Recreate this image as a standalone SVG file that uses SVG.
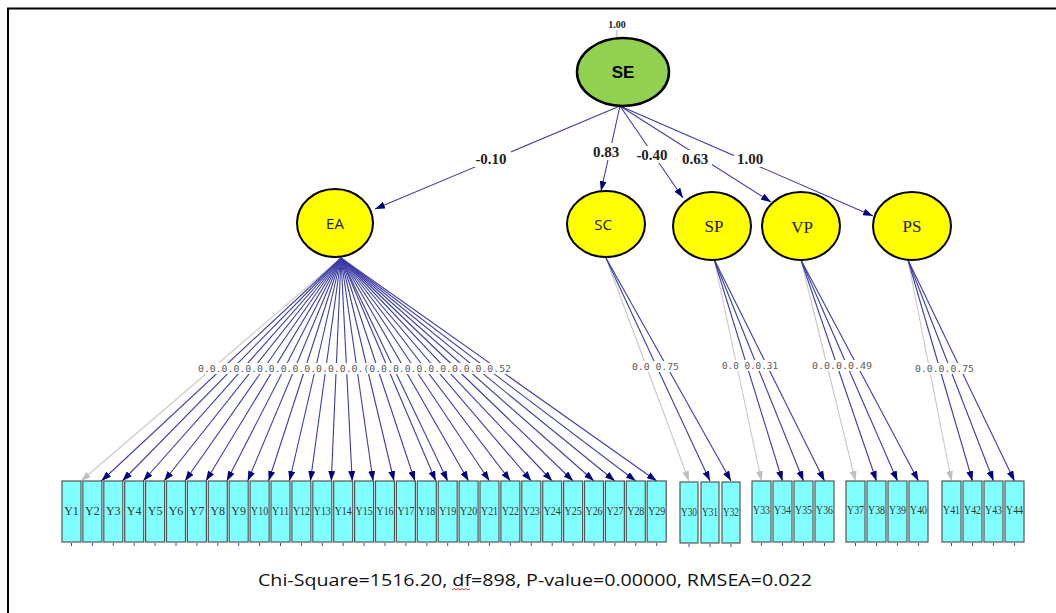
<svg xmlns="http://www.w3.org/2000/svg" width="1056" height="613" viewBox="0 0 1056 613">
<defs>
<marker id="ah" viewBox="0 0 10 7" refX="10" refY="3.5" markerWidth="10" markerHeight="7" markerUnits="userSpaceOnUse" orient="auto"><path d="M0,0 L10,3.5 L0,7 z" fill="#000080"/></marker>
<marker id="ag" viewBox="0 0 10 7" refX="10" refY="3.5" markerWidth="10" markerHeight="7" markerUnits="userSpaceOnUse" orient="auto"><path d="M0,0 L10,3.5 L0,7 z" fill="#c0c0c0"/></marker>
<style>
.ln{stroke:#3c3ca4;stroke-width:1.1;fill:none;marker-end:url(#ah)}
.lg{stroke:#c8c8c8;stroke-width:1.1;fill:none;marker-end:url(#ag)}
.lat{fill:#ffff00;stroke:#000;stroke-width:2}
.box{fill:#80ffff;stroke:#555;stroke-width:1.2}
.bt{font-family:"Liberation Serif",serif;font-size:12px;fill:#333;text-anchor:middle}
.pl{font-family:"Liberation Serif",serif;font-size:15px;font-weight:bold;fill:#222;text-anchor:middle}
.ld{font-family:"DejaVu Sans Mono",monospace;font-size:9.5px;fill:#5a5a5a}
.tk{stroke:#4646a8;stroke-width:1}
</style>
</defs>
<rect width="1056" height="613" fill="#fff"/>
<path d="M8,613 V8.5 H1056" fill="none" stroke="#000" stroke-width="2"/>

<g id="connectors">
<line x1="617" y1="30" x2="617" y2="38" stroke="#aaa"/>
<line class="ln" x1="620" y1="106" x2="375" y2="209"/>
<line class="ln" x1="620" y1="106" x2="601" y2="191"/>
<line class="ln" x1="620" y1="106" x2="683" y2="198"/>
<line class="ln" x1="620" y1="106" x2="771" y2="202"/>
<line class="ln" x1="620" y1="106" x2="873" y2="216"/>
<line class="lg" x1="341" y1="258" x2="81" y2="481"/>
<line class="ln" x1="341" y1="258" x2="101.4" y2="481"/>
<line class="ln" x1="341" y1="258" x2="122.3" y2="481"/>
<line class="ln" x1="341" y1="258" x2="143.2" y2="481"/>
<line class="ln" x1="341" y1="258" x2="164.1" y2="481"/>
<line class="ln" x1="341" y1="258" x2="185" y2="481"/>
<line class="ln" x1="341" y1="258" x2="205.9" y2="481"/>
<line class="ln" x1="341" y1="258" x2="226.8" y2="481"/>
<line class="ln" x1="341" y1="258" x2="247.7" y2="481"/>
<line class="ln" x1="341" y1="258" x2="268.6" y2="481"/>
<line class="ln" x1="341" y1="258" x2="289.5" y2="481"/>
<line class="ln" x1="341" y1="258" x2="310.4" y2="481"/>
<line class="ln" x1="341" y1="258" x2="331.3" y2="481"/>
<line class="ln" x1="341" y1="258" x2="352.2" y2="481"/>
<line class="ln" x1="341" y1="258" x2="373.1" y2="481"/>
<line class="ln" x1="341" y1="258" x2="394" y2="481"/>
<line class="ln" x1="341" y1="258" x2="414.9" y2="481"/>
<line class="ln" x1="341" y1="258" x2="435.8" y2="481"/>
<line class="ln" x1="341" y1="258" x2="447.7" y2="481"/>
<line class="ln" x1="341" y1="258" x2="468.6" y2="481"/>
<line class="ln" x1="341" y1="258" x2="489.5" y2="481"/>
<line class="ln" x1="341" y1="258" x2="510.4" y2="481"/>
<line class="ln" x1="341" y1="258" x2="531.3" y2="481"/>
<line class="ln" x1="341" y1="258" x2="552.2" y2="481"/>
<line class="ln" x1="341" y1="258" x2="573.1" y2="481"/>
<line class="ln" x1="341" y1="258" x2="594" y2="481"/>
<line class="ln" x1="341" y1="258" x2="614.9" y2="481"/>
<line class="ln" x1="341" y1="258" x2="635.8" y2="481"/>
<line class="ln" x1="341" y1="258" x2="656.7" y2="481"/>
<line class="lg" x1="606" y1="258" x2="689" y2="481"/>
<line class="ln" x1="606" y1="258" x2="710" y2="481"/>
<line class="ln" x1="606" y1="258" x2="731" y2="481"/>
<line class="lg" x1="714" y1="259" x2="761.5" y2="481"/>
<line class="ln" x1="714" y1="259" x2="782.5" y2="481"/>
<line class="ln" x1="714" y1="259" x2="803.5" y2="481"/>
<line class="ln" x1="714" y1="259" x2="824.5" y2="481"/>
<line class="lg" x1="801" y1="260" x2="855.5" y2="481"/>
<line class="ln" x1="801" y1="260" x2="876.5" y2="481"/>
<line class="ln" x1="801" y1="260" x2="897.5" y2="481"/>
<line class="ln" x1="801" y1="260" x2="918.5" y2="481"/>
<line class="lg" x1="908" y1="260" x2="951.5" y2="481"/>
<line class="ln" x1="908" y1="260" x2="972.5" y2="481"/>
<line class="ln" x1="908" y1="260" x2="993.5" y2="481"/>
<line class="ln" x1="908" y1="260" x2="1014.5" y2="481"/>
</g>

<g id="path-labels">
<rect x="471" y="150" width="40" height="17" fill="#fff"/>
<text class="pl" x="491" y="164">-0.10</text>
<rect x="590" y="143" width="32" height="17" fill="#fff"/>
<text class="pl" x="606" y="157">0.83</text>
<rect x="634" y="146" width="37" height="17" fill="#fff"/>
<text class="pl" x="652" y="160">-0.40</text>
<rect x="679" y="150" width="33" height="17" fill="#fff"/>
<text class="pl" x="695" y="164">0.63</text>
<rect x="734" y="150" width="33" height="17" fill="#fff"/>
<text class="pl" x="750" y="164">1.00</text>
</g>

<g id="loading-labels">
<rect x="196" y="363" width="318" height="11" fill="#fff"/>
<text class="ld" x="198" y="372" textLength="313" lengthAdjust="spacingAndGlyphs">0.0.0.0.0.0.0.0.0.0.0.0.0.0.(0.0.0.0.0.0.0.0.0.0.0.52</text>
<rect x="630" y="361" width="51" height="11" fill="#fff"/>
<text class="ld" x="632" y="370" textLength="47" lengthAdjust="spacingAndGlyphs">0.0 0.75</text>
<rect x="720" y="360" width="60" height="11" fill="#fff"/>
<text class="ld" x="722" y="369" textLength="56" lengthAdjust="spacingAndGlyphs">0.0 0.0.31</text>
<rect x="810" y="360" width="64" height="11" fill="#fff"/>
<text class="ld" x="812" y="369" textLength="60" lengthAdjust="spacingAndGlyphs">0.0.0.0.49</text>
<rect x="913" y="363" width="63" height="11" fill="#fff"/>
<text class="ld" x="915" y="372" textLength="59" lengthAdjust="spacingAndGlyphs">0.0.0.0.75</text>
</g>

<g id="SE">
<text x="617" y="28" font-family="Liberation Serif,serif" font-size="10" font-weight="bold" fill="#222" text-anchor="middle">1.00</text>
<ellipse cx="623" cy="72" rx="46" ry="34" fill="#92d050" stroke="#000" stroke-width="2.5"/>
<text x="623" y="78" font-family="Liberation Sans,sans-serif" font-size="17" font-weight="bold" fill="#000" text-anchor="middle">SE</text>
</g>
<g id="EA">
<ellipse class="lat" cx="335" cy="223" rx="38" ry="34"/>
<text x="335" y="229" font-family="Open Sans,sans-serif" font-size="15" fill="#222" text-anchor="middle">EA</text>
</g>
<g id="SC">
<ellipse class="lat" cx="606" cy="224" rx="39" ry="33"/>
<text x="603" y="230" font-family="Open Sans,sans-serif" font-size="15" fill="#222" text-anchor="middle">SC</text>
</g>
<g id="SP">
<ellipse class="lat" cx="712" cy="226" rx="39" ry="34"/>
<text x="714" y="232" font-family="Liberation Serif,serif" font-size="17" fill="#222" text-anchor="middle">SP</text>
</g>
<g id="VP">
<ellipse class="lat" cx="801" cy="226" rx="39" ry="34"/>
<text x="802" y="233" font-family="Liberation Serif,serif" font-size="17" fill="#222" text-anchor="middle">VP</text>
</g>
<g id="PS">
<ellipse class="lat" cx="912" cy="226" rx="39" ry="34"/>
<text x="912" y="232" font-family="Liberation Serif,serif" font-size="17" fill="#222" text-anchor="middle">PS</text>
</g>

<g id="indicators">
<g id="Y1"><rect class="box" x="62" y="481" width="19" height="61"/><text class="bt" x="71.5" y="515">Y1</text><line class="tk" x1="71.5" y1="543" x2="71.5" y2="546"/></g>
<g id="Y2"><rect class="box" x="82.9" y="481" width="19" height="61"/><text class="bt" x="92.4" y="515">Y2</text><line class="tk" x1="92.4" y1="543" x2="92.4" y2="546"/></g>
<g id="Y3"><rect class="box" x="103.8" y="481" width="19" height="61"/><text class="bt" x="113.3" y="515">Y3</text><line class="tk" x1="113.3" y1="543" x2="113.3" y2="546"/></g>
<g id="Y4"><rect class="box" x="124.7" y="481" width="19" height="61"/><text class="bt" x="134.2" y="515">Y4</text><line class="tk" x1="134.2" y1="543" x2="134.2" y2="546"/></g>
<g id="Y5"><rect class="box" x="145.6" y="481" width="19" height="61"/><text class="bt" x="155.1" y="515">Y5</text><line class="tk" x1="155.1" y1="543" x2="155.1" y2="546"/></g>
<g id="Y6"><rect class="box" x="166.5" y="481" width="19" height="61"/><text class="bt" x="176" y="515">Y6</text><line class="tk" x1="176" y1="543" x2="176" y2="546"/></g>
<g id="Y7"><rect class="box" x="187.4" y="481" width="19" height="61"/><text class="bt" x="196.9" y="515">Y7</text><line class="tk" x1="196.9" y1="543" x2="196.9" y2="546"/></g>
<g id="Y8"><rect class="box" x="208.3" y="481" width="19" height="61"/><text class="bt" x="217.8" y="515">Y8</text><line class="tk" x1="217.8" y1="543" x2="217.8" y2="546"/></g>
<g id="Y9"><rect class="box" x="229.2" y="481" width="19" height="61"/><text class="bt" x="238.7" y="515">Y9</text><line class="tk" x1="238.7" y1="543" x2="238.7" y2="546"/></g>
<g id="Y10"><rect class="box" x="250.1" y="481" width="19" height="61"/><text class="bt" x="259.6" y="515" textLength="17" lengthAdjust="spacingAndGlyphs">Y10</text><line class="tk" x1="259.6" y1="543" x2="259.6" y2="546"/></g>
<g id="Y11"><rect class="box" x="271" y="481" width="19" height="61"/><text class="bt" x="280.5" y="515" textLength="17" lengthAdjust="spacingAndGlyphs">Y11</text><line class="tk" x1="280.5" y1="543" x2="280.5" y2="546"/></g>
<g id="Y12"><rect class="box" x="291.9" y="481" width="19" height="61"/><text class="bt" x="301.4" y="515" textLength="17" lengthAdjust="spacingAndGlyphs">Y12</text><line class="tk" x1="301.4" y1="543" x2="301.4" y2="546"/></g>
<g id="Y13"><rect class="box" x="312.8" y="481" width="19" height="61"/><text class="bt" x="322.3" y="515" textLength="17" lengthAdjust="spacingAndGlyphs">Y13</text><line class="tk" x1="322.3" y1="543" x2="322.3" y2="546"/></g>
<g id="Y14"><rect class="box" x="333.7" y="481" width="19" height="61"/><text class="bt" x="343.2" y="515" textLength="17" lengthAdjust="spacingAndGlyphs">Y14</text><line class="tk" x1="343.2" y1="543" x2="343.2" y2="546"/></g>
<g id="Y15"><rect class="box" x="354.6" y="481" width="19" height="61"/><text class="bt" x="364.1" y="515" textLength="17" lengthAdjust="spacingAndGlyphs">Y15</text><line class="tk" x1="364.1" y1="543" x2="364.1" y2="546"/></g>
<g id="Y16"><rect class="box" x="375.5" y="481" width="19" height="61"/><text class="bt" x="385" y="515" textLength="17" lengthAdjust="spacingAndGlyphs">Y16</text><line class="tk" x1="385" y1="543" x2="385" y2="546"/></g>
<g id="Y17"><rect class="box" x="396.4" y="481" width="19" height="61"/><text class="bt" x="405.9" y="515" textLength="17" lengthAdjust="spacingAndGlyphs">Y17</text><line class="tk" x1="405.9" y1="543" x2="405.9" y2="546"/></g>
<g id="Y18"><rect class="box" x="417.3" y="481" width="19" height="61"/><text class="bt" x="426.8" y="515" textLength="17" lengthAdjust="spacingAndGlyphs">Y18</text><line class="tk" x1="426.8" y1="543" x2="426.8" y2="546"/></g>
<g id="Y19"><rect class="box" x="438.2" y="481" width="19" height="61"/><text class="bt" x="447.7" y="515" textLength="17" lengthAdjust="spacingAndGlyphs">Y19</text><line class="tk" x1="447.7" y1="543" x2="447.7" y2="546"/></g>
<g id="Y20"><rect class="box" x="459.1" y="481" width="19" height="61"/><text class="bt" x="468.6" y="515" textLength="17" lengthAdjust="spacingAndGlyphs">Y20</text><line class="tk" x1="468.6" y1="543" x2="468.6" y2="546"/></g>
<g id="Y21"><rect class="box" x="480" y="481" width="19" height="61"/><text class="bt" x="489.5" y="515" textLength="17" lengthAdjust="spacingAndGlyphs">Y21</text><line class="tk" x1="489.5" y1="543" x2="489.5" y2="546"/></g>
<g id="Y22"><rect class="box" x="500.9" y="481" width="19" height="61"/><text class="bt" x="510.4" y="515" textLength="17" lengthAdjust="spacingAndGlyphs">Y22</text><line class="tk" x1="510.4" y1="543" x2="510.4" y2="546"/></g>
<g id="Y23"><rect class="box" x="521.8" y="481" width="19" height="61"/><text class="bt" x="531.3" y="515" textLength="17" lengthAdjust="spacingAndGlyphs">Y23</text><line class="tk" x1="531.3" y1="543" x2="531.3" y2="546"/></g>
<g id="Y24"><rect class="box" x="542.7" y="481" width="19" height="61"/><text class="bt" x="552.2" y="515" textLength="17" lengthAdjust="spacingAndGlyphs">Y24</text><line class="tk" x1="552.2" y1="543" x2="552.2" y2="546"/></g>
<g id="Y25"><rect class="box" x="563.6" y="481" width="19" height="61"/><text class="bt" x="573.1" y="515" textLength="17" lengthAdjust="spacingAndGlyphs">Y25</text><line class="tk" x1="573.1" y1="543" x2="573.1" y2="546"/></g>
<g id="Y26"><rect class="box" x="584.5" y="481" width="19" height="61"/><text class="bt" x="594" y="515" textLength="17" lengthAdjust="spacingAndGlyphs">Y26</text><line class="tk" x1="594" y1="543" x2="594" y2="546"/></g>
<g id="Y27"><rect class="box" x="605.4" y="481" width="19" height="61"/><text class="bt" x="614.9" y="515" textLength="17" lengthAdjust="spacingAndGlyphs">Y27</text><line class="tk" x1="614.9" y1="543" x2="614.9" y2="546"/></g>
<g id="Y28"><rect class="box" x="626.3" y="481" width="19" height="61"/><text class="bt" x="635.8" y="515" textLength="17" lengthAdjust="spacingAndGlyphs">Y28</text><line class="tk" x1="635.8" y1="543" x2="635.8" y2="546"/></g>
<g id="Y29"><rect class="box" x="647.2" y="481" width="19" height="61"/><text class="bt" x="656.7" y="515" textLength="17" lengthAdjust="spacingAndGlyphs">Y29</text><line class="tk" x1="656.7" y1="543" x2="656.7" y2="546"/></g>
<g id="Y30"><rect class="box" x="680" y="482" width="18" height="61"/><text class="bt" x="689" y="516" textLength="16" lengthAdjust="spacingAndGlyphs">Y30</text><line class="tk" x1="689" y1="544" x2="689" y2="547"/></g>
<g id="Y31"><rect class="box" x="701" y="482" width="18" height="61"/><text class="bt" x="710" y="516" textLength="16" lengthAdjust="spacingAndGlyphs">Y31</text><line class="tk" x1="710" y1="544" x2="710" y2="547"/></g>
<g id="Y32"><rect class="box" x="722" y="482" width="18" height="61"/><text class="bt" x="731" y="516" textLength="16" lengthAdjust="spacingAndGlyphs">Y32</text><line class="tk" x1="731" y1="544" x2="731" y2="547"/></g>
<g id="Y33"><rect class="box" x="752" y="481" width="19" height="61"/><text class="bt" x="761.5" y="514" textLength="17" lengthAdjust="spacingAndGlyphs">Y33</text><line class="tk" x1="761.5" y1="543" x2="761.5" y2="546"/></g>
<g id="Y34"><rect class="box" x="773" y="481" width="19" height="61"/><text class="bt" x="782.5" y="514" textLength="17" lengthAdjust="spacingAndGlyphs">Y34</text><line class="tk" x1="782.5" y1="543" x2="782.5" y2="546"/></g>
<g id="Y35"><rect class="box" x="794" y="481" width="19" height="61"/><text class="bt" x="803.5" y="514" textLength="17" lengthAdjust="spacingAndGlyphs">Y35</text><line class="tk" x1="803.5" y1="543" x2="803.5" y2="546"/></g>
<g id="Y36"><rect class="box" x="815" y="481" width="19" height="61"/><text class="bt" x="824.5" y="514" textLength="17" lengthAdjust="spacingAndGlyphs">Y36</text><line class="tk" x1="824.5" y1="543" x2="824.5" y2="546"/></g>
<g id="Y37"><rect class="box" x="846" y="481" width="19" height="61"/><text class="bt" x="855.5" y="514" textLength="17" lengthAdjust="spacingAndGlyphs">Y37</text><line class="tk" x1="855.5" y1="543" x2="855.5" y2="546"/></g>
<g id="Y38"><rect class="box" x="867" y="481" width="19" height="61"/><text class="bt" x="876.5" y="514" textLength="17" lengthAdjust="spacingAndGlyphs">Y38</text><line class="tk" x1="876.5" y1="543" x2="876.5" y2="546"/></g>
<g id="Y39"><rect class="box" x="888" y="481" width="19" height="61"/><text class="bt" x="897.5" y="514" textLength="17" lengthAdjust="spacingAndGlyphs">Y39</text><line class="tk" x1="897.5" y1="543" x2="897.5" y2="546"/></g>
<g id="Y40"><rect class="box" x="909" y="481" width="19" height="61"/><text class="bt" x="918.5" y="514" textLength="17" lengthAdjust="spacingAndGlyphs">Y40</text><line class="tk" x1="918.5" y1="543" x2="918.5" y2="546"/></g>
<g id="Y41"><rect class="box" x="942" y="481" width="19" height="61"/><text class="bt" x="951.5" y="514" textLength="17" lengthAdjust="spacingAndGlyphs">Y41</text><line class="tk" x1="951.5" y1="543" x2="951.5" y2="546"/></g>
<g id="Y42"><rect class="box" x="963" y="481" width="19" height="61"/><text class="bt" x="972.5" y="514" textLength="17" lengthAdjust="spacingAndGlyphs">Y42</text><line class="tk" x1="972.5" y1="543" x2="972.5" y2="546"/></g>
<g id="Y43"><rect class="box" x="984" y="481" width="19" height="61"/><text class="bt" x="993.5" y="514" textLength="17" lengthAdjust="spacingAndGlyphs">Y43</text><line class="tk" x1="993.5" y1="543" x2="993.5" y2="546"/></g>
<g id="Y44"><rect class="box" x="1005" y="481" width="19" height="61"/><text class="bt" x="1014.5" y="514" textLength="17" lengthAdjust="spacingAndGlyphs">Y44</text><line class="tk" x1="1014.5" y1="543" x2="1014.5" y2="546"/></g>
</g>

<g id="fit">
<text x="258" y="586" font-family="Open Sans,sans-serif" font-size="16" fill="#111" textLength="554" lengthAdjust="spacingAndGlyphs">Chi-Square=1516.20, df=898, P-value=0.00000, RMSEA=0.022</text>
<path d="M452,590 l2,-1.5 l2,1.5 l2,-1.5 l2,1.5 l2,-1.5 l2,1.5 l2,-1.5 l2,1.5 l2,-1.5" fill="none" stroke="#e00000" stroke-width="0.8"/>
</g>
</svg>
